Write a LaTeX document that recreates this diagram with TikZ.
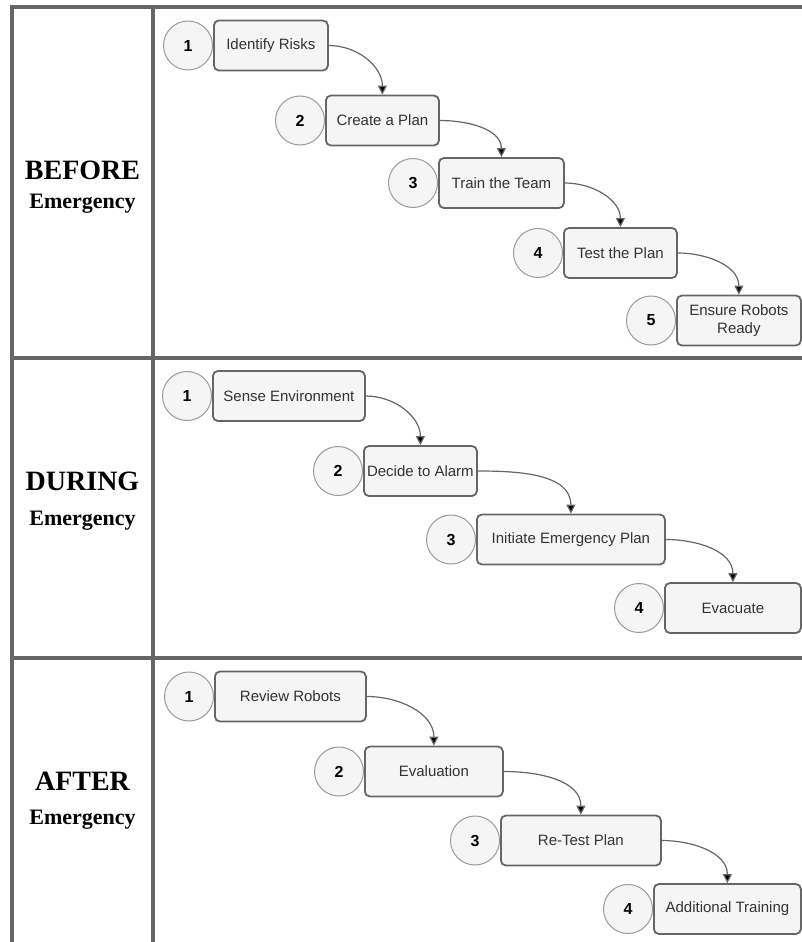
\documentclass[tikz,border=0pt]{standalone}
\usepackage{fontspec}
\setmainfont{Liberation Sans}
\newfontfamily\lanefont{Liberation Serif}
\usepackage{tikz}
\usetikzlibrary{arrows.meta,positioning}
\definecolor{frame}{HTML}{666666}
\definecolor{boxfill}{HTML}{F5F5F5}
\definecolor{ring}{HTML}{9A9A9A}
\definecolor{inktext}{HTML}{333333}
\tikzset{
	lane/.style={draw=frame, line width=4pt},
	lanehead/.style={anchor=base, font=\lanefont\bfseries\fontsize{28}{30}\selectfont},
	lanesub/.style={anchor=base, font=\lanefont\bfseries\fontsize{22}{24}\selectfont},
	stepbox/.style={draw=frame, line width=1.8pt, fill=boxfill, rounded corners=5pt, anchor=west,
		minimum height=50pt, inner xsep=3pt, align=center, text=inktext, font=\fontsize{15}{18}\selectfont},
	num/.style={circle, draw=ring, line width=1pt, fill=boxfill, minimum size=49pt, inner sep=0pt,
		font=\fontsize{16}{18}\selectfont\bfseries},
	flow/.style={draw=frame, line width=1.2pt},
	drop/.style={out=0, in=90}
}

\begin{document}
\begin{tikzpicture}[x=1pt, y=-1pt, >={Triangle[length=9pt,width=9pt]}]
	\useasboundingbox (0,0) rectangle (802,942);
	% lanes
	\draw[lane] (12,942) -- (12,7) -- (802,7);
	\draw[lane] (153,7) -- (153,942);
	\draw[lane] (12,358) -- (802,358);
	\draw[lane] (12,658) -- (802,658);

	\node[lanehead] (Bh) at (82.5,179) {BEFORE};
	\node[lanesub] (Bs) at (82.5,208) {Emergency};
	\node[lanehead] (Dh) at (82.5,490) {DURING};
	\node[lanesub] (Ds) at (82.5,525) {Emergency};
	\node[lanehead] (Ah) at (82.5,790) {AFTER};
	\node[lanesub] (As) at (82.5,824) {Emergency};

	% before
	\node[stepbox, minimum width=114pt] (B1) at (213,45.5) {Identify Risks};
	\node[stepbox, minimum width=113pt] (B2) at (325,120.5) {Create a Plan};
	\node[stepbox, minimum width=125pt] (B3) at (438,183) {Train the Team};
	\node[stepbox, minimum width=113pt] (B4) at (563,253) {Test the Plan};
	\node[stepbox, minimum width=124pt] (B5) at (676,320.5) {Ensure Robots\\Ready};
	\node[num, left=0pt of B1] (B1n) {1};
	\node[num, left=0pt of B2] (B2n) {2};
	\node[num, left=0pt of B3] (B3n) {3};
	\node[num, left=0pt of B4] (B4n) {4};
	\node[num, left=0pt of B5] (B5n) {5};

	% during
	\node[stepbox, minimum width=152pt] (D1) at (212,396) {Sense Environment};
	\node[stepbox, minimum width=113pt] (D2) at (363,471) {Decide to Alarm};
	\node[stepbox, minimum width=188pt] (D3) at (476,539.5) {Initiate Emergency Plan};
	\node[stepbox, minimum width=136pt] (D4) at (664,608) {Evacuate};
	\node[num, left=0pt of D1] (D1n) {1};
	\node[num, left=0pt of D2] (D2n) {2};
	\node[num, left=0pt of D3] (D3n) {3};
	\node[num, left=0pt of D4] (D4n) {4};

	% after
	\node[stepbox, minimum width=151pt] (A1) at (214,696.5) {Review Robots};
	\node[stepbox, minimum width=138pt] (A2) at (364,771.5) {Evaluation};
	\node[stepbox, minimum width=160pt] (A3) at (500,840.5) {Re-Test Plan};
	\node[stepbox, minimum width=147pt] (A4) at (653,909) {Additional Training};
	\node[num, left=0pt of A1] (A1n) {1};
	\node[num, left=0pt of A2] (A2n) {2};
	\node[num, left=0pt of A3] (A3n) {3};
	\node[num, left=0pt of A4] (A4n) {4};

	\path[->, flow]
	(B1) edge[drop] (B2)
	(B2) edge[drop] (B3)
	(B3) edge[drop] (B4)
	(B4) edge[drop] (B5)
	(D1) edge[drop] (D2)
	(D2) edge[drop] (D3)
	(D3) edge[drop] (D4)
	(A1) edge[drop] (A2)
	(A2) edge[drop] (A3)
	(A3) edge[drop] (A4)
	;
\end{tikzpicture}
\end{document}
